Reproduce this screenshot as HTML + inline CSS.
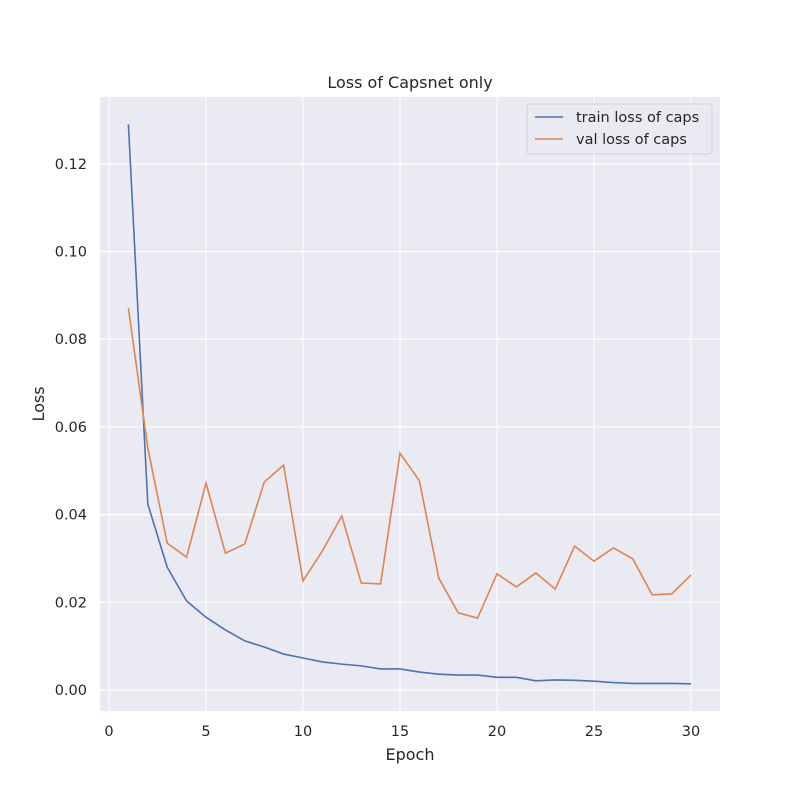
<!DOCTYPE html>
<html><head><meta charset="utf-8"><style>
body{margin:0;background:#fff;}
svg{font-family:"DejaVu Sans","Liberation Sans",sans-serif;}
</style></head><body>
<svg id="c" width="800" height="800" xmlns="http://www.w3.org/2000/svg"></svg>
<script>
const epochs=[1,2,3,4,5,6,7,8,9,10,11,12,13,14,15,16,17,18,19,20,21,22,23,24,25,26,27,28,29,30];
const trainLoss=[0.129,0.0424,0.028,0.0203,0.0166,0.0137,0.0112,0.0098,0.0082,0.0073,0.0064,0.0059,0.0055,0.0048,0.0048,0.0041,0.0036,0.0034,0.0034,0.0029,0.0029,0.0021,0.0023,0.0022,0.0020,0.0017,0.0015,0.0015,0.0015,0.0014];
const valLoss=[0.0871,0.0552,0.0335,0.0303,0.0472,0.0312,0.0333,0.0474,0.0513,0.0249,0.0317,0.0397,0.0244,0.0242,0.0540,0.0477,0.0255,0.0176,0.0164,0.0265,0.0235,0.0267,0.0230,0.0328,0.0294,0.0324,0.0299,0.0217,0.0219,0.0262];
const xTicks=[0,5,10,15,20,25,30];
const yTicks=[0,0.02,0.04,0.06,0.08,0.10,0.12];
const yTickLabels=["0.00","0.02","0.04","0.06","0.08","0.10","0.12"];
const NS="http://www.w3.org/2000/svg";
const svg=document.getElementById('c');
const L=100,R=720,T=97,B=711;
const xs=v=>109+v*19.4;
const ys=v=>690-v*4385;
function mk(tag,attrs,parent){const e=document.createElementNS(NS,tag);for(const k in attrs)e.setAttribute(k,attrs[k]);(parent||svg).appendChild(e);return e;}
const bg=mk('rect',{x:L,y:T,width:R-L,height:B-T,fill:'#eaeaf2'});


xTicks.forEach(t=>{
 const g=mk('line',{x1:xs(t),x2:xs(t),y1:T,y2:B,stroke:'#fff','stroke-width':1.2});
 
 
 const tx=mk('text',{x:xs(t),y:736,'text-anchor':'middle','font-size':14.5,fill:'#262626'});
 tx.textContent=t;
 
 
});
yTicks.forEach((t,i)=>{
 const g=mk('line',{x1:L,x2:R,y1:ys(t),y2:ys(t),stroke:'#fff','stroke-width':1.2});
 
 
 const tx=mk('text',{x:87,y:ys(t)+5,'text-anchor':'end','font-size':14.5,fill:'#262626'});
 tx.textContent=yTickLabels[i];
 
 
});
function line(data,color,name){
 const p=mk('polyline',{points:data.map((v,i)=>xs(epochs[i])+','+ys(v)).join(' '),fill:'none',stroke:color,'stroke-width':1.6});
 
 
}
line(trainLoss,'#4c72b0','train-loss-line');
line(valLoss,'#dd8452','val-loss-line');
const title=mk('text',{x:410,y:88,'text-anchor':'middle','font-size':16,fill:'#262626'});
title.textContent='Loss of Capsnet only';


const xl=mk('text',{x:410,y:760,'text-anchor':'middle','font-size':16,fill:'#262626'});
xl.textContent='Epoch';


const yl=mk('text',{x:0,y:0,'text-anchor':'middle','font-size':16,fill:'#262626',transform:'translate(44,404) rotate(-90)'});
yl.textContent='Loss';


const lg=mk('g',{});


mk('rect',{x:527,y:104,width:185,height:50,rx:3,fill:'#eaeaf2',stroke:'#d0d0d8','fill-opacity':0.8},lg);
[['train loss of caps','#4c72b0',117],['val loss of caps','#dd8452',139]].forEach(([n,c,y])=>{
 const e=mk('g',{},lg);
 
 
 mk('line',{x1:535,x2:563,y1:y,y2:y,stroke:c,'stroke-width':1.6},e);
 const t=mk('text',{x:576,y:y+5,'font-size':14.5,fill:'#262626'},e);
 t.textContent=n;
});
</script>
</body></html>
